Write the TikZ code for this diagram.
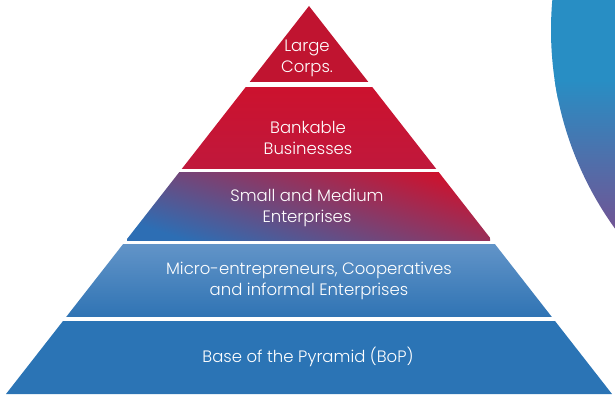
\documentclass[tikz,border=0pt]{standalone}
\usepackage{fontspec}
\setmainfont{Poppins}[UprightFont=* Light]
\usetikzlibrary{positioning}
\definecolor{corpred}{RGB}{192,20,48}
\definecolor{bankred}{RGB}{204,18,46}
\definecolor{bankdark}{RGB}{192,24,60}
\definecolor{smemid}{RGB}{150,55,105}
\definecolor{smeblue}{RGB}{45,110,180}
\definecolor{microtop}{RGB}{98,148,200}
\definecolor{microbot}{RGB}{48,116,180}
\definecolor{bopblue}{RGB}{43,116,181}
\definecolor{arcblue}{RGB}{40,142,196}
\definecolor{arcpurple}{RGB}{118,80,145}
\tikzstyle{tier} = [text=white, align=center, font=\fontsize{16.5}{21}\selectfont]

\begin{document}
\begin{tikzpicture}[x=1pt, y=-1pt]
\useasboundingbox (0,0) rectangle (615,396);

% big arc on the right
\begin{scope}
\clip (891,30) circle (340);
\fill[arcblue] (540,0) rectangle (615,100);
\shade[top color=arcblue, middle color=arcblue, bottom color=arcpurple] (540,80) rectangle (615,240);
\end{scope}

% pyramid
\coordinate (apex) at (309,6);
\coordinate (baseL) at (6,394);
\coordinate (baseR) at (612,394);
\begin{scope}
\clip (apex) -- (baseL) -- (baseR) -- cycle;
\fill[corpred] (0,0) rectangle (615,82);
\shade[top color=bankred, bottom color=bankdark] (0,87) rectangle (615,168);
\shade[top color=bankred, middle color=smemid, bottom color=smeblue, shading angle=-18] (127,172) rectangle (490,240);
\shade[top color=microtop, bottom color=microbot] (0,244) rectangle (615,316);
\fill[bopblue] (0,321) rectangle (615,396);
\end{scope}

% tier names
\node (corps) [tier] at (307,58) {Large\\Corps.};
\node (bankable) [tier] at (308,138) {Bankable\\Businesses};
\node (sme) [tier] at (307,208) {Small and Medium\\Enterprises};
\node (micro) [tier] at (309,281) {Micro-entrepreneurs, Cooperatives\\and informal Enterprises};
\node (bop) [tier] at (308,357) {Base of the Pyramid (BoP)};

\end{tikzpicture}
\end{document}
